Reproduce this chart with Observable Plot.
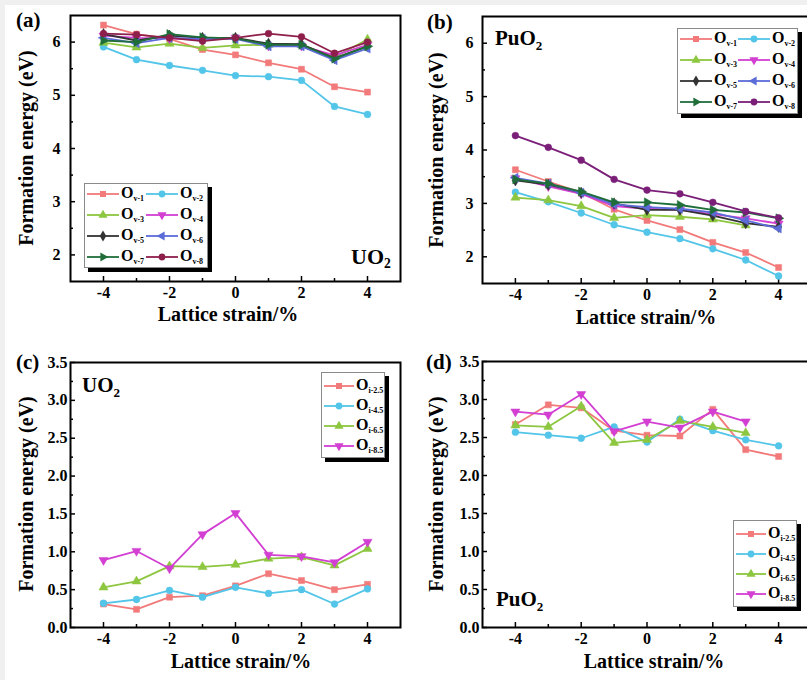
<!DOCTYPE html>
<html><head><meta charset="utf-8">
<script src="https://cdn.jsdelivr.net/npm/d3@7"></script>
<script src="https://cdn.jsdelivr.net/npm/@observablehq/plot@0.6"></script>
<style>
html,body{margin:0;padding:0;background:#f0f0f0;overflow:hidden;}
#wrap{position:relative;width:807px;height:680px;overflow:hidden;}
#card{position:absolute;left:5px;top:5px;width:802px;height:675px;background:#fff;}
.t{position:absolute;font-family:"Liberation Serif","DejaVu Serif",serif;font-weight:bold;color:#000;white-space:nowrap;line-height:1;}
.t sub{font-size:0.62em;vertical-align:baseline;position:relative;top:0.35em;}
.leg{position:absolute;background:#fff;border:1px solid #8a8a8a;box-shadow:4px 4px 0 #000;box-sizing:border-box;}
.leg .it{position:absolute;height:14px;}
.leg svg{position:absolute;left:0;top:0;overflow:visible;}
.leg .lab{position:absolute;top:-2px;font-family:"Liberation Serif",serif;font-weight:bold;font-size:16px;line-height:1;white-space:nowrap;}
.leg .lab sub{font-size:8px;vertical-align:baseline;position:relative;top:3px;}
</style></head>
<body><div id="wrap"><div id="card"></div></div>
<script>
// ---------- data ----------
const strain = [-4, -3, -2, -1, 0, 1, 2, 3, 4];
const xMajor = [-4, -2, 0, 2, 4];
const xMinor = [-3, -1, 1, 3];

// (a) UO2 vacancy
const aOv1 = [6.32, 6.15, 6.06, 5.86, 5.76, 5.61, 5.49, 5.16, 5.06];
const aOv2 = [5.91, 5.67, 5.56, 5.47, 5.37, 5.35, 5.28, 4.79, 4.64];
const aOv3 = [5.99, 5.90, 5.97, 5.89, 5.94, 5.95, 5.95, 5.72, 6.05];
const aOv4 = [6.12, 6.08, 6.07, 6.04, 6.08, 5.93, 5.93, 5.75, 5.95];
const aOv5 = [6.15, 6.03, 6.12, 6.08, 6.08, 5.97, 5.96, 5.70, 5.92];
const aOv6 = [6.08, 5.98, 6.08, 6.06, 6.06, 5.92, 5.92, 5.66, 5.88];
const aOv7 = [6.03, 6.00, 6.15, 6.09, 6.07, 5.95, 5.95, 5.69, 5.92];
const aOv8 = [6.16, 6.14, 6.08, 6.02, 6.08, 6.16, 6.10, 5.79, 6.00];

// (b) PuO2 vacancy
const bOv1 = [3.63, 3.41, 3.20, 2.89, 2.68, 2.51, 2.27, 2.08, 1.80];
const bOv2 = [3.21, 3.03, 2.82, 2.60, 2.46, 2.34, 2.15, 1.94, 1.64];
const bOv3 = [3.11, 3.06, 2.95, 2.73, 2.78, 2.75, 2.70, 2.59, null];
const bOv4 = [3.47, 3.32, 3.18, 2.95, 2.90, 2.88, 2.80, 2.72, 2.62];
const bOv5 = [3.43, 3.35, 3.20, 3.00, 2.88, 2.88, 2.77, 2.63, 2.56];
const bOv6 = [3.48, 3.37, 3.20, 2.98, 2.93, 2.90, 2.83, 2.68, 2.53];
const bOv7 = [3.45, 3.37, 3.22, 3.02, 3.02, 2.97, 2.88, 2.83, 2.72];
const bOv8 = [4.27, 4.05, 3.81, 3.45, 3.25, 3.18, 3.02, 2.85, 2.73];

// (c) UO2 interstitial
const cOi25 = [0.31, 0.24, 0.40, 0.42, 0.55, 0.71, 0.62, 0.50, 0.57];
const cOi45 = [0.32, 0.37, 0.49, 0.40, 0.53, 0.45, 0.50, 0.31, 0.51];
const cOi65 = [0.53, 0.61, 0.81, 0.80, 0.83, 0.91, 0.93, 0.82, 1.04];
const cOi85 = [0.89, 1.01, 0.78, 1.23, 1.51, 0.96, 0.94, 0.86, 1.13];

// (d) PuO2 interstitial
const dOi25 = [2.67, 2.93, 2.89, 2.59, 2.53, 2.52, 2.87, 2.34, 2.25];
const dOi45 = [2.57, 2.53, 2.49, 2.64, 2.44, 2.74, 2.59, 2.47, 2.39];
const dOi65 = [2.66, 2.64, 2.91, 2.43, 2.47, 2.72, 2.64, 2.56, null];
const dOi85 = [2.84, 2.80, 3.07, 2.58, 2.71, 2.63, 2.84, 2.71, null];

const vacNames = ["v-1", "v-2", "v-3", "v-4", "v-5", "v-6", "v-7", "v-8"];
const intNames = ["i-2.5", "i-4.5", "i-6.5", "i-8.5"];

// ---------- styles ----------
const sq3 = Math.sqrt(3);
const triDown = {draw(c, s) { const y = -Math.sqrt(s / (sq3 * 3)); c.moveTo(0, -y * 2); c.lineTo(-sq3 * y, y); c.lineTo(sq3 * y, y); c.closePath(); }};
const triLeft = {draw(c, s) { const y = -Math.sqrt(s / (sq3 * 3)); c.moveTo(y * 2, 0); c.lineTo(-y, -sq3 * y); c.lineTo(-y, sq3 * y); c.closePath(); }};
const triRight = {draw(c, s) { const y = -Math.sqrt(s / (sq3 * 3)); c.moveTo(-y * 2, 0); c.lineTo(y, -sq3 * y); c.lineTo(y, sq3 * y); c.closePath(); }};
const symMap = {square: d3.symbolSquare, circle: d3.symbolCircle, triangle: d3.symbolTriangle, diamond: d3.symbolDiamond, triDown, triLeft, triRight};

const vacSymbols = ["square", "circle", "triangle", "triDown", "diamond", "triLeft", "triRight", "circle"];
const vacColorsA = ["#f27a7a", "#52c5e8", "#8dc63f", "#d23fd2", "#333333", "#5b6bd8", "#1f6e3a", "#8e1f4b"];
const vacColorsB = ["#f27a7a", "#52c5e8", "#8dc63f", "#d23fd2", "#333333", "#5b6bd8", "#1f6e3a", "#7a1e78"];
const intSymbols = ["square", "circle", "triangle", "triDown"];
const intColors = ["#f27a7a", "#52c5e8", "#8dc63f", "#d23fd2"];

const wrap = document.getElementById("wrap");
const FONT = '"Liberation Serif", "DejaVu Serif", serif';

function panel(o) {
  const marks = [
    Plot.axisY({ticks: o.yMinor, tickSize: -3, tickFormat: () => "", label: null, strokeWidth: 1.5}),
    Plot.axisY({ticks: o.yMajor, tickSize: -5, tickPadding: o.yPad, tickFormat: o.yFormat, label: null, strokeWidth: 1.5, fontSize: 16}),
    Plot.axisX({ticks: xMinor, tickSize: -3, tickFormat: () => "", label: null, strokeWidth: 1.5}),
    Plot.axisX({ticks: xMajor, tickSize: -5, tickPadding: 10, tickFormat: d => (d < 0 ? "-" + (-d) : String(d)), label: null, strokeWidth: 1.5, fontSize: 16})
  ];
  o.series.forEach((vals, i) => {
    const data = strain.map((x, j) => ({x, y: vals[j]})).filter(d => d.y != null);
    marks.push(Plot.line(data, {x: "x", y: "y", stroke: o.colors[i], strokeWidth: 1.8}));
    marks.push(Plot.dot(data, {x: "x", y: "y", fill: o.colors[i], stroke: o.colors[i], strokeWidth: 0.5, symbol: symMap[o.symbols[i]], r: 3.4}));
  });
  marks.push(Plot.frame({stroke: "#000", strokeWidth: 2}));
  const svg = Plot.plot({
    width: o.width, height: o.height,
    marginLeft: o.ml, marginRight: o.mr, marginTop: o.mt, marginBottom: o.mb,
    x: {domain: [-5, 5]},
    y: {domain: o.yDomain},
    style: {fontFamily: FONT, fontWeight: "bold", fontSize: "16px", background: "transparent", color: "#000", overflow: "visible", maxWidth: "none"},
    marks
  });
  svg.style.position = "absolute";
  svg.style.left = o.left + "px";
  svg.style.top = o.top + "px";
  wrap.appendChild(svg);
}

function text(html, x, baseline, size, anchor = "start") {
  const d = document.createElement("div");
  d.className = "t";
  d.innerHTML = html;
  d.style.fontSize = size + "px";
  d.style.top = (baseline - 0.84 * size) + "px";
  d.style.left = x + "px";
  if (anchor === "middle") d.style.transform = "translateX(-50%)";
  wrap.appendChild(d);
}
function ytitle(cx, cy) {
  const d = document.createElement("div");
  d.className = "t";
  d.textContent = "Formation energy (eV)";
  d.style.fontSize = "20px";
  d.style.left = cx + "px";
  d.style.top = cy + "px";
  d.style.transform = "translate(-50%,-50%) rotate(-90deg)";
  wrap.appendChild(d);
}

function legend(o) {
  const box = document.createElement("div");
  box.className = "leg";
  Object.assign(box.style, {left: o.left + "px", top: o.top + "px", width: o.w + "px", height: o.h + "px"});
  o.names.forEach((nm, i) => {
    const col = i % o.cols, row = Math.floor(i / o.cols);
    const it = document.createElement("div");
    it.className = "it";
    it.style.left = (o.x0 + col * o.colW) + "px";
    it.style.top = (o.rows[row] - 7) + "px";
    const L = o.lineW;
    const path = d3.symbol(symMap[o.symbols[i]], 3.4 * 3.4 * Math.PI)();
    it.innerHTML = `<svg width="${L}" height="14"><line x1="0" x2="${L}" y1="7" y2="7" stroke="${o.colors[i]}" stroke-width="1.8"/>` +
      `<path d="${path}" transform="translate(${L / 2},7)" fill="${o.colors[i]}"/></svg>` +
      `<span class="lab" style="left:${L + 2}px">O<sub>${nm}</sub></span>`;
    box.appendChild(it);
  });
  wrap.appendChild(box);
}

// ---------- panels ----------
panel({left: 0, top: 0, width: 404, height: 330, ml: 70, mr: 4, mt: 15, mb: 49,
  yDomain: [1.5, 6.5], yMajor: [2, 3, 4, 5, 6], yMinor: [2.5, 3.5, 4.5, 5.5], yPad: 15, yFormat: d => String(d),
  series: [aOv1, aOv2, aOv3, aOv4, aOv5, aOv6, aOv7, aOv8], colors: vacColorsA, symbols: vacSymbols});
panel({left: 404, top: 0, width: 420, height: 330, ml: 78, mr: 13, mt: 16, mb: 47,
  yDomain: [1.5, 6.5], yMajor: [2, 3, 4, 5, 6], yMinor: [2.5, 3.5, 4.5, 5.5], yPad: 14, yFormat: d => String(d),
  series: [bOv1, bOv2, bOv3, bOv4, bOv5, bOv6, bOv7, bOv8], colors: vacColorsB, symbols: vacSymbols});
panel({left: 0, top: 330, width: 404, height: 345, ml: 70, mr: 4, mt: 32, mb: 48,
  yDomain: [0, 3.5], yMajor: [0, 0.5, 1, 1.5, 2, 2.5, 3, 3.5], yMinor: [0.25, 0.75, 1.25, 1.75, 2.25, 2.75, 3.25], yPad: 8, yFormat: d3.format(".1f"),
  series: [cOi25, cOi45, cOi65, cOi85], colors: intColors, symbols: intSymbols});
panel({left: 404, top: 330, width: 420, height: 345, ml: 78, mr: 13, mt: 31, mb: 48,
  yDomain: [0, 3.5], yMajor: [0, 0.5, 1, 1.5, 2, 2.5, 3, 3.5], yMinor: [0.25, 0.75, 1.25, 1.75, 2.25, 2.75, 3.25], yPad: 8, yFormat: d3.format(".1f"),
  series: [dOi25, dOi45, dOi65, dOi85], colors: intColors, symbols: intSymbols});

// ---------- legends ----------
legend({left: 84, top: 183, w: 124, h: 85, cols: 2, colW: 59, x0: 2, lineW: 32, rows: [10, 31, 52, 73],
  names: vacNames, colors: vacColorsA, symbols: vacSymbols});
legend({left: 677, top: 28, w: 121, h: 86, cols: 2, colW: 58, x0: 2, lineW: 32, rows: [10, 31, 52, 73],
  names: vacNames, colors: vacColorsB, symbols: vacSymbols});
legend({left: 321, top: 372, w: 64, h: 86, cols: 1, colW: 0, x0: 2, lineW: 30, rows: [13, 33, 53, 73],
  names: intNames, colors: intColors, symbols: intSymbols});
legend({left: 733, top: 520, w: 64, h: 87, cols: 1, colW: 0, x0: 2, lineW: 30, rows: [13, 33, 53, 73],
  names: intNames, colors: intColors, symbols: intSymbols});

// ---------- labels ----------
text("(a)", 16, 28, 21);
text("(b)", 427, 30, 21);
text("(c)", 16, 370, 21);
text("(d)", 426, 370, 21);
text("UO<sub>2</sub>", 351, 264, 22);
text("PuO<sub>2</sub>", 495, 46, 21);
text("UO<sub>2</sub>", 82, 393, 21);
text("PuO<sub>2</sub>", 496, 607, 21);
text("Lattice strain/%", 228, 321, 20, "middle");
text("Lattice strain/%", 646, 324, 20, "middle");
text("Lattice strain/%", 241, 668, 20, "middle");
text("Lattice strain/%", 654, 668, 20, "middle");
ytitle(26, 148);
ytitle(436, 150);
ytitle(26, 494);
ytitle(436, 494);
</script>
</body></html>
